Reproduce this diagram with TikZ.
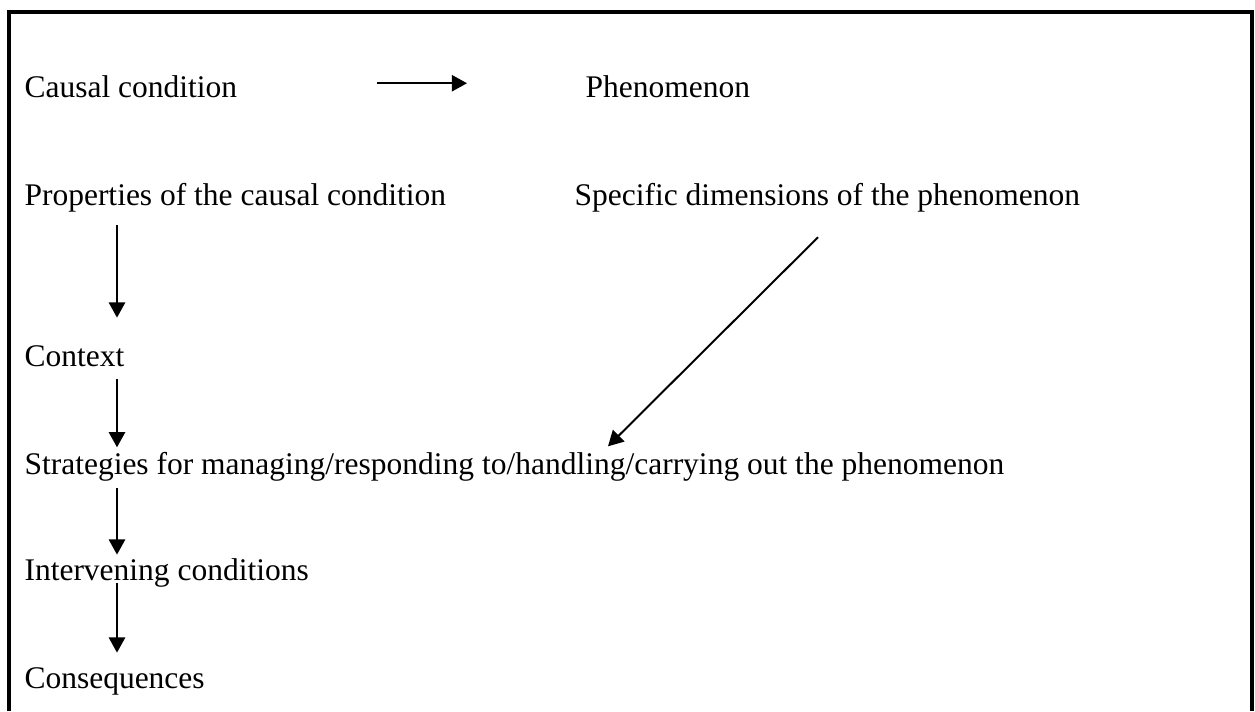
\documentclass[tikz,border=0pt]{standalone}
\usepackage{fontspec}
\setmainfont{Liberation Serif}
\usetikzlibrary{positioning, arrows.meta, calc}

\begin{document}
\begin{tikzpicture}[x=0.381pt, y=-0.381pt, >={Triangle[length=5.8pt, width=6.2pt]},
      font=\fontsize{12pt}{14pt}\selectfont,
      term/.style={inner sep=0pt, anchor=base west},
      link/.style={->, line width=0.75pt}]
    \useasboundingbox (0,0) rectangle (1255,711);
    \draw[line width=1.2pt] (9,711) -- (9,12) -- (1252,12) -- (1252,711);
    \node[term] (causal) at (24,97)  {Causal condition};
    \node[term] (phen)   at (585,97) {Phenomenon};
    \node[term] (props)  at (24,205) {Properties of the causal condition};
    \node[term] (dims)   at (574,205) {Specific dimensions of the phenomenon};
    \node[term] (context) at (24,366) {Context};
    \node[term] (strat)  at (24,474) {Strategies for managing/responding to/handling/carrying out the phenomenon};
    \node[term] (interv) at (24,580) {Intervening conditions};
    \node[term] (conseq) at (24,688) {Consequences};
    \draw[link] ($(causal.east)+(139,-3)$) -- ($(phen.west)+(-118,-3)$);
    \draw[link] ($(props.south west)+(93,13)$) -- ($(context.north west)+(93,-27)$);
    \draw[link] ($(context.south west)+(93,12)$) -- ($(strat.north west)+(93,-4)$);
    \draw[link] ($(strat.south west)+(93,7)$) -- ($(interv.north west)+(93,-3)$);
    \draw[link] ($(interv.south west)+(93,-4)$) -- ($(conseq.north west)+(93,-14)$);
    \draw[link] ($(dims.south west)+(244,25)$) -- ($(strat.north west)+(584,-5)$);
  \end{tikzpicture}
\end{document}
